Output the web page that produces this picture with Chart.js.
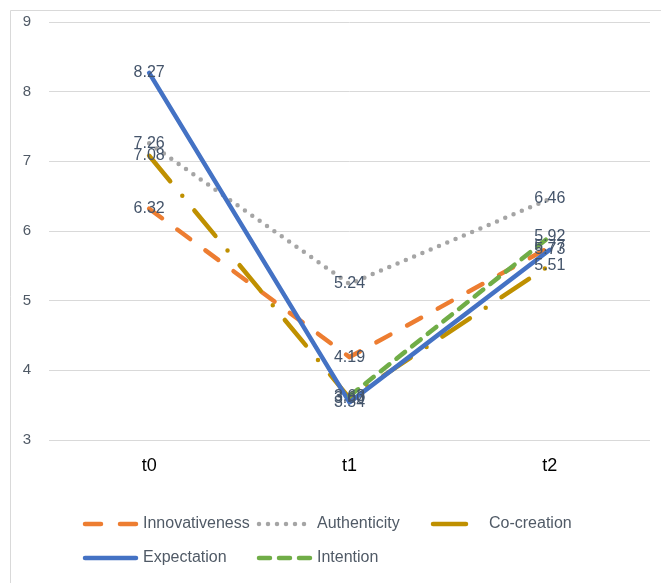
<!DOCTYPE html>
<html>
<head>
<meta charset="utf-8">
<script src="https://cdn.jsdelivr.net/npm/chart.js@4/dist/chart.umd.min.js"></script>
<style>
html,body{margin:0;padding:0;background:#fff;}
#wrap{width:661px;height:583px;position:relative;}
</style>
</head>
<body>
<div id="wrap"><canvas id="c" width="661" height="583"></canvas></div>
<script>
const categories = ['t0', 't1', 't2'];
const innovativeness = [6.32, 4.19, 5.77];
const authenticity = [7.26, 5.24, 6.46];
const coCreation = [7.08, 3.60, 5.51];
const expectation = [8.27, 3.54, 5.73];
const intention = [null, 3.63, 5.92];
const yTicks = [3, 4, 5, 6, 7, 8, 9];

const seriesNames = ['Innovativeness', 'Authenticity', 'Co-creation', 'Expectation', 'Intention'];
const seriesData = [innovativeness, authenticity, coCreation, expectation, intention];
const styles = [
  {color: '#ED7D31', dash: [16, 19], width: 4.5},
  {color: '#A5A5A5', dash: [0, 9], width: 4.5},
  {color: '#BF9000', dash: [33, 19, 0, 19], width: 4.5},
  {color: '#4472C4', dash: [], width: 4.5},
  {color: '#70AD47', dash: [11, 9], width: 4.5}
];

const datasets = seriesNames.map((n, i) => ({
  label: n,
  data: seriesData[i],
  borderColor: styles[i].color,
  backgroundColor: styles[i].color,
  borderWidth: styles[i].width,
  borderDash: styles[i].dash,
  borderCapStyle: 'round',
  borderJoinStyle: 'round',
  pointRadius: 0,
  tension: 0,
  fill: false,
  order: seriesNames.length - i
}));

const frame = {
  id: 'frame',
  beforeDraw(chart) {
    const ctx = chart.ctx;
    ctx.save();
    ctx.fillStyle = '#fff';
    ctx.fillRect(0, 0, chart.width, chart.height);
    ctx.strokeStyle = '#D9D9D9';
    ctx.lineWidth = 1;
    ctx.beginPath();
    ctx.moveTo(10.5, chart.height);
    ctx.lineTo(10.5, 10.5);
    ctx.lineTo(chart.width, 10.5);
    ctx.stroke();
    ctx.restore();
  }
};

const labels = {
  id: 'valueLabels',
  afterDatasetsDraw(chart) {
    const ctx = chart.ctx;
    ctx.save();
    ctx.font = '16px "Liberation Sans", Arial, sans-serif';
    ctx.fillStyle = '#44546A';
    ctx.textAlign = 'center';
    ctx.textBaseline = 'middle';
    chart.data.datasets.forEach((ds, i) => {
      const meta = chart.getDatasetMeta(i);
      meta.data.forEach((pt, j) => {
        const v = ds.data[j];
        if (v === null || v === undefined) return;
        ctx.fillText(v.toFixed(2), pt.x, pt.y);
      });
    });
    ctx.restore();
  }
};

const legendPlugin = {
  id: 'customLegend',
  afterDraw(chart) {
    const ctx = chart.ctx;
    const cols = [83, 257, 431];
    const rows = [524, 558];
    ctx.save();
    ctx.font = '16px "Liberation Sans", Arial, sans-serif';
    ctx.textBaseline = 'middle';
    ctx.textAlign = 'left';
    chart.data.datasets.forEach((ds, i) => {
      const x = cols[i % 3];
      const y = rows[Math.floor(i / 3)];
      ctx.strokeStyle = ds.borderColor;
      ctx.lineWidth = ds.borderWidth;
      ctx.lineCap = 'round';
      ctx.setLineDash(ds.borderDash);
      ctx.beginPath();
      ctx.moveTo(x + 2, y);
      ctx.lineTo(x + 53, y);
      ctx.stroke();
      ctx.setLineDash([]);
      ctx.fillStyle = '#505A66';
      const tx = (i === 2) ? x + 58 : x + 60;
      ctx.fillText(ds.label, tx, y);
    });
    ctx.restore();
  }
};

new Chart(document.getElementById('c'), {
  type: 'line',
  data: {labels: categories, datasets: datasets},
  plugins: [frame, labels, legendPlugin],
  options: {
    responsive: false,
    animation: false,
    events: [],
    layout: {padding: {left: 10, right: 11, top: 22, bottom: 0}},
    plugins: {legend: {display: false}, tooltip: {enabled: false}},
    scales: {
      x: {
        offset: true,
        grid: {display: false, drawTicks: false},
        border: {display: false},
        ticks: {color: '#000', font: {size: 18, family: '"Liberation Sans", Arial, sans-serif'}, padding: 15},
        afterFit(s) { s.height = 143; }
      },
      y: {
        min: 3, max: 9,
        afterBuildTicks(s) { s.ticks = yTicks.map(v => ({value: v})); },
        grid: {color: '#D9D9D9', lineWidth: 1, drawTicks: false},
        border: {display: false},
        ticks: {color: '#505A66', font: {size: 15, family: '"Liberation Sans", Arial, sans-serif'}, padding: 18},
        afterFit(s) { s.width = 39; s.paddingTop = 0; s.paddingBottom = 0; }
      }
    }
  }
});
</script>
</body>
</html>
